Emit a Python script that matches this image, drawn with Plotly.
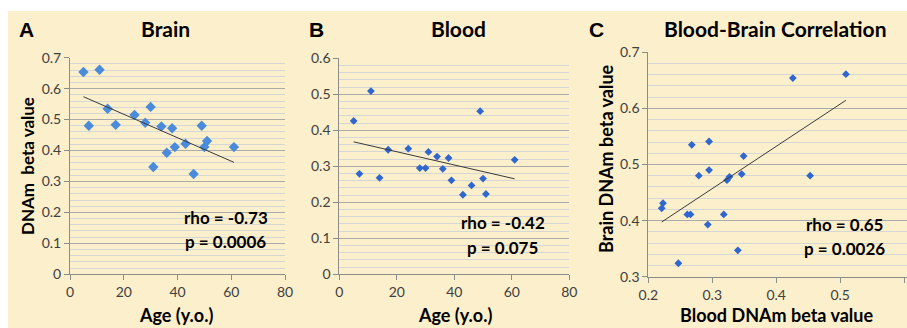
import numpy as np
import plotly.graph_objects as go

# ---- data ----
age = [5, 11, 7, 14, 17, 24, 28, 30, 31, 34, 38, 36, 39, 43, 46, 49, 50, 51, 61]
brain = [0.654, 0.661, 0.480, 0.535, 0.483, 0.515, 0.490, 0.541, 0.347, 0.478,
         0.472, 0.393, 0.411, 0.422, 0.324, 0.480, 0.411, 0.431, 0.411]
blood = [0.426, 0.509, 0.279, 0.268, 0.346, 0.349, 0.295, 0.295, 0.340, 0.327,
         0.323, 0.293, 0.261, 0.221, 0.247, 0.453, 0.266, 0.223, 0.318]
panel_titles = ["Brain", "Blood", "Blood-Brain Correlation"]
panel_letters = ["A", "B", "C"]
stats_text = [["rho = -0.73", "p = 0.0006"],
              ["rho = -0.42", "p = 0.075"],
              ["rho = 0.65", "p = 0.0026"]]

W, H = 907, 328
FONT = "Lato"
BG = "#FCEFCB"
TICKC = "#404040"
AXC = "#8C8C8C"


def px(x):
    return x / W


def py(y):
    return 1 - y / H


def trend(xs, ys):
    xs = np.asarray(xs, float)
    ys = np.asarray(ys, float)
    m, b = np.polyfit(xs, ys, 1)
    xx = np.array([xs.min(), xs.max()])
    return xx, m * xx + b


fig = go.Figure()

pairs = [(age, brain, "x", "y", "diamond", 8, "#4A8CDB"),
         (age, blood, "x2", "y2", "diamond", 6, "#2F66D0"),
         (blood, brain, "x3", "y3", "diamond", 6, "#2F66D0")]
for xs, ys, xa, ya, sym, sz, col in pairs:
    fig.add_trace(go.Scatter(x=xs, y=ys, mode="markers", xaxis=xa, yaxis=ya,
                             marker=dict(symbol=sym, size=sz, color=col,
                                         line=dict(width=0)),
                             showlegend=False, hoverinfo="x+y"))
    tx, ty = trend(xs, ys)
    fig.add_trace(go.Scatter(x=tx, y=ty, mode="lines", xaxis=xa, yaxis=ya,
                             line=dict(color="#3A3A3A", width=1),
                             showlegend=False, hoverinfo="skip"))


def xax(domain, rng, dtick):
    return dict(domain=domain, range=rng, dtick=dtick, tick0=0,
                showgrid=False, zeroline=False, showline=True,
                linecolor=AXC, linewidth=1, ticks="outside", ticklen=5,
                tickcolor=AXC, tickfont=dict(family=FONT, size=14, color=TICKC),
                fixedrange=True, automargin=False)


def yax(domain, rng, anchor):
    return dict(domain=domain, range=rng, dtick=0.1, tick0=0, anchor=anchor,
                showgrid=True, gridcolor="#ABABAB", gridwidth=1.2,
                minor=dict(dtick=0.02, showgrid=True, gridcolor="#D6D6D6",
                           gridwidth=1),
                zeroline=False, showline=True, linecolor=AXC, linewidth=1,
                ticks="outside", ticklen=5, tickcolor=AXC,
                tickfont=dict(family=FONT, size=14, color=TICKC),
                fixedrange=True, automargin=False)


ydomA = [py(274.3), py(57.7)]
ydomB = [py(274.3), py(58.3)]
ydomC = [py(276.7), py(52.3)]

fig.update_layout(
    width=W, height=H,
    margin=dict(l=0, r=0, t=0, b=0, autoexpand=False),
    paper_bgcolor="white", plot_bgcolor="white",
    xaxis=dict(**xax([px(70), px(285)], [0, 80], 20), anchor="y"),
    yaxis=yax(ydomA, [0, 0.7], "x"),
    xaxis2=dict(**xax([px(339.3), px(569.3)], [0, 80], 20), anchor="y2"),
    yaxis2=yax(ydomB, [0, 0.6], "x2"),
    xaxis3=dict(**xax([px(648.3), 1.0], [0.2, 0.6045], 0.1), anchor="y3"),
    yaxis3=yax(ydomC, [0.3, 0.7], "x3"),
    shapes=[dict(type="rect", xref="paper", yref="paper", layer="below",
                 x0=px(8), x1=1, y0=0, y1=py(11), fillcolor=BG,
                 line=dict(width=0))],
)

ann = []


def txt(x, y, s, size, family=FONT, angle=0, color="black"):
    ann.append(dict(xref="paper", yref="paper", x=px(x), y=py(y), text=s,
                    showarrow=False, xanchor="center", yanchor="middle",
                    textangle=angle,
                    font=dict(family=family, size=size, color=color)))


# panel letters
for s, x in zip(panel_letters, [26, 316, 596]):
    txt(x, 30, "<b>%s</b>" % s, 21, family="Liberation Sans")
# titles
for s, x in zip(panel_titles, [165.5, 458, 775]):
    txt(x, 29, "<b>%s</b>" % s, 21)
# axis titles
txt(176, 315, "<b>Age (y.o.)</b>", 18)
txt(455, 315, "<b>Age (y.o.)</b>", 18)
txt(776, 315, "<b>Blood DNAm beta value</b>", 18)
txt(27, 166, "<b>DNAm  beta value</b>", 17, angle=-90)
txt(606, 159, "<b>Brain DNAm beta value</b>", 18, angle=-90)
# stats
for (r, p), (cx, ry, pyy) in zip(stats_text, [(225.5, 217, 241),
                                               (502.5, 222, 247),
                                               (844, 224, 248)]):
    txt(cx, ry, "<b>%s</b>" % r, 17)
    txt(cx, pyy, "<b>%s</b>" % p, 17)

fig.update_layout(annotations=ann)
fig.write_html("out.html",
               config={"displayModeBar": False},
               post_script="document.body.style.margin='0';"
                           "document.body.style.overflow='hidden';")
